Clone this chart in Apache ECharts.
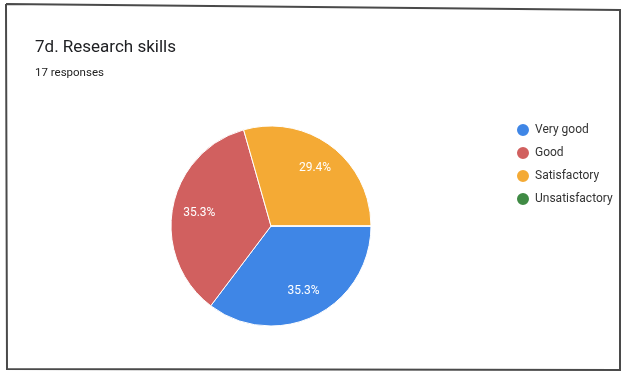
<!DOCTYPE html>
<html>
<head>
<meta charset="utf-8">
<script src="https://cdn.jsdelivr.net/npm/echarts@6/dist/echarts.min.js"></script>
<style>
html,body{margin:0;padding:0;background:#fff;}
#c{width:630px;height:375px;}
</style>
</head>
<body>
<div id="c"></div>
<script>
const categories = ['Very good', 'Good', 'Satisfactory', 'Unsatisfactory'];
const counts = [6, 6, 5, 0];
const colors = ['#3f86e6', '#d1605f', '#f4aa35', '#3f8a44'];
const titleText = '7d. Research skills';
const subtitleText = '17 responses';

const data = categories.map((c, i) => ({ name: c, value: counts[i], itemStyle: { color: colors[i] } }));

const chart = echarts.init(document.getElementById('c'), null, { renderer: 'canvas' });
chart.setOption({
  animation: false,
  backgroundColor: '#fff',
  graphic: [
    {
      type: 'polyline',
      shape: { points: [[6, 4], [620, 10], [620, 370], [7, 369], [6, 4]] },
      style: { stroke: '#4a4a4a', lineWidth: 2, fill: null },
      z: -1
    }
  ],
  title: {
    text: titleText,
    subtext: subtitleText,
    left: 30,
    top: 34,
    itemGap: 11,
    textStyle: { fontFamily: 'Roboto', fontSize: 17, fontWeight: 'normal', color: '#202124' },
    subtextStyle: { fontFamily: 'Roboto', fontSize: 11.5, color: '#222' }
  },
  legend: {
    data: categories,
    orient: 'vertical',
    left: 510,
    top: 117,
    icon: 'circle',
    itemWidth: 14,
    itemHeight: 14,
    itemGap: 7,
    textStyle: { fontFamily: 'Roboto', fontSize: 12, color: '#333' }
  },
  series: [
    {
      type: 'pie',
      center: [271, 226],
      radius: [0, 100],
      startAngle: 0,
      clockwise: true,
      percentPrecision: 1,
      silent: true,
      label: { show: false },
      labelLine: { show: false },
      itemStyle: { borderColor: '#fff', borderWidth: 1 },
      data: data
    },
    {
      type: 'pie',
      center: [271, 226],
      radius: [40, 100],
      startAngle: 0,
      clockwise: true,
      percentPrecision: 1,
      silent: true,
      itemStyle: { color: 'rgba(0,0,0,0)', borderWidth: 0 },
      label: {
        show: true,
        position: 'inside',
        color: '#fff',
        fontFamily: 'Roboto',
        fontSize: 12,
        formatter: p => p.value > 0 ? p.percent.toFixed(1) + '%' : ''
      },
      labelLine: { show: false },
      data: categories.map((c, i) => ({ name: c, value: counts[i] }))
    }
  ]
});
</script>
</body>
</html>
